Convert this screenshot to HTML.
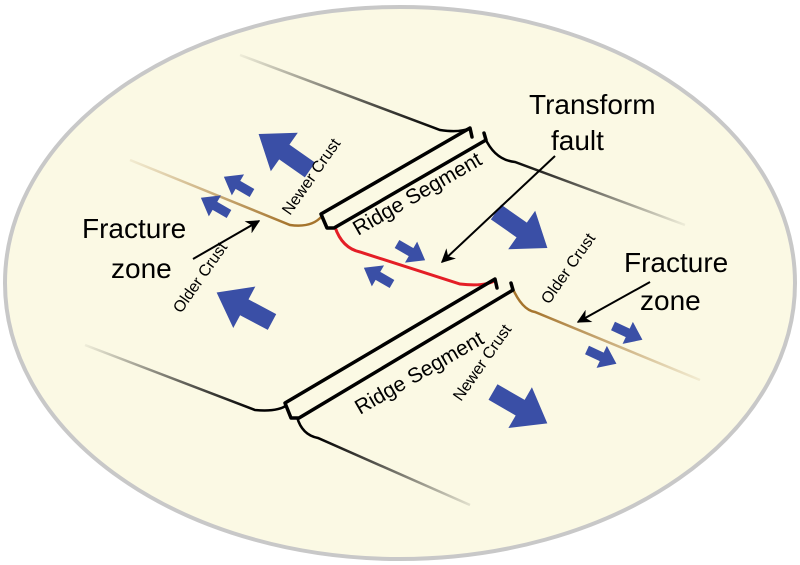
<!DOCTYPE html>
<html><head><style>html,body{margin:0;padding:0;background:#fff}svg{display:block}</style></head>
<body>
<svg width="800" height="565" viewBox="0 0 800 565" xmlns="http://www.w3.org/2000/svg" font-family="Liberation Sans, sans-serif">
<defs>
<linearGradient id="g1" gradientUnits="userSpaceOnUse" x1="440" y1="130" x2="240" y2="55"><stop offset="0" stop-color="#000"/><stop offset="1" stop-color="#000" stop-opacity="0.05"/></linearGradient>
<linearGradient id="g2" gradientUnits="userSpaceOnUse" x1="510" y1="160" x2="685" y2="225"><stop offset="0" stop-color="#000"/><stop offset="1" stop-color="#000" stop-opacity="0.05"/></linearGradient>
<linearGradient id="g3" gradientUnits="userSpaceOnUse" x1="290" y1="225" x2="130" y2="160"><stop offset="0" stop-color="#a5742c"/><stop offset="1" stop-color="#a5742c" stop-opacity="0.1"/></linearGradient>
<linearGradient id="g4" gradientUnits="userSpaceOnUse" x1="255" y1="410" x2="85" y2="345"><stop offset="0" stop-color="#000"/><stop offset="1" stop-color="#000" stop-opacity="0.05"/></linearGradient>
<linearGradient id="g5" gradientUnits="userSpaceOnUse" x1="530" y1="310" x2="700" y2="380"><stop offset="0" stop-color="#a5742c"/><stop offset="1" stop-color="#a5742c" stop-opacity="0.1"/></linearGradient>
<linearGradient id="g6" gradientUnits="userSpaceOnUse" x1="320" y1="435" x2="470" y2="505"><stop offset="0" stop-color="#000"/><stop offset="1" stop-color="#000" stop-opacity="0.1"/></linearGradient>
<path id="ar" d="M0,-8 L28,-8 L28,-21 L56,0 L28,21 L28,8 L0,8Z" fill="#3a4fa6"/>
<marker id="mk" viewBox="0 0 10 10" refX="9" refY="5" markerWidth="7" markerHeight="7" orient="auto"><path d="M0,0 L10,5 L0,10 L3,5Z" fill="#000"/></marker>
</defs>
<ellipse cx="400" cy="283" rx="395" ry="276" fill="#fbf9e4" stroke="#c8c8c8" stroke-width="4"/>
<g fill="none" stroke-width="2.5">
<path d="M240,55 L440,130 Q460,133 470,128" stroke="url(#g1)"/>
<path d="M485,138 Q495,160 515,162 L685,225" stroke="url(#g2)"/>
<path d="M130,160 L290,225 Q312,228 322,216" stroke="url(#g3)"/>
<path d="M85,345 L255,410 Q278,412 287,405" stroke="url(#g4)"/>
<path d="M512,287 Q522,310 535,312 L700,380" stroke="url(#g5)"/>
<path d="M297,417 Q302,435 318,438 L470,505" stroke="url(#g6)"/>
<path d="M335,227 Q342,248 360,252 L460,284 Q485,287 496,280" stroke="#e41e26" stroke-width="3"/>
</g>
<g fill="none" stroke="#000" stroke-width="3.5" stroke-linejoin="round" stroke-linecap="round">
<path d="M472,137 L470,128 L321,214 L327,228 L334,228 L486,140 L484,133"/>
<path d="M497,288 L495,279 L285,403 L291,418 L299,418 L513,290 L511,283"/>
</g>
<g>
<use href="#ar" transform="translate(310,170) rotate(-145) scale(1.12)"/>
<use href="#ar" transform="translate(272,322) rotate(-152) scale(1.12)"/>
<use href="#ar" transform="translate(496,212) rotate(35) scale(1.12)"/>
<use href="#ar" transform="translate(493,392) rotate(30) scale(1.12)"/>
<use href="#ar" transform="translate(252,193) rotate(-150) scale(0.58)"/>
<use href="#ar" transform="translate(229,214) rotate(-150) scale(0.58)"/>
<use href="#ar" transform="translate(397,244) rotate(30) scale(0.58)"/>
<use href="#ar" transform="translate(392,284) rotate(-150) scale(0.58)"/>
<use href="#ar" transform="translate(613,326) rotate(25) scale(0.58)"/>
<use href="#ar" transform="translate(587,350) rotate(25) scale(0.58)"/>
</g>
<g stroke="#000" stroke-width="2" marker-end="url(#mk)">
<line x1="555" y1="156" x2="442" y2="262"/>
<line x1="193" y1="259" x2="259" y2="221"/>
<line x1="650" y1="282" x2="578" y2="322"/>
</g>
<g fill="#000">
<text x="529" y="114" font-size="28">Transform</text>
<text x="551" y="150" font-size="28">fault</text>
<text x="82" y="238" font-size="28">Fracture</text>
<text x="111" y="278" font-size="28">zone</text>
<text x="624" y="272" font-size="28">Fracture</text>
<text x="640" y="310" font-size="28">zone</text>
<text transform="translate(358,236) rotate(-30)" font-size="21">Ridge Segment</text>
<text transform="translate(360,415) rotate(-30)" font-size="21">Ridge Segment</text>
<text transform="translate(290,216) rotate(-55)" font-size="16">Newer Crust</text>
<text transform="translate(181,314) rotate(-55)" font-size="16">Older Crust</text>
<text transform="translate(549,305) rotate(-55)" font-size="16">Older Crust</text>
<text transform="translate(461,402) rotate(-55)" font-size="16">Newer Crust</text>
</g>
</svg>
</body></html>
